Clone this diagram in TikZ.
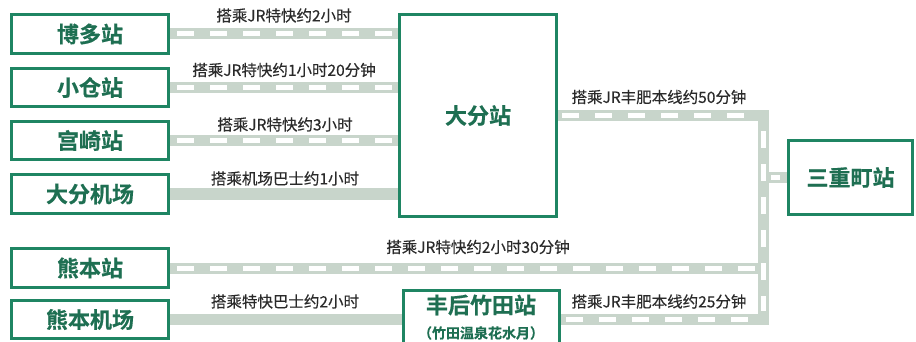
\documentclass[tikz,border=0pt]{standalone}
\usepackage{fontspec}
\setmainfont{Noto Sans CJK SC}
\newfontfamily\lblfont[FakeBold=0.4]{Noto Sans CJK SC}
\newfontfamily\namefont[FakeBold=0.5]{Noto Sans CJK SC Bold}
\definecolor{boxgreen}{HTML}{1F8563}
\definecolor{txtgreen}{HTML}{1E6F52}
\definecolor{trackgray}{HTML}{C8D5CB}
\definecolor{labelgray}{HTML}{2A2A2A}
\tikzset{
  stbox/.style={draw=boxgreen, line width=3pt, fill=white, inner sep=0pt,
    minimum width=157pt, minimum height=38.5pt, font=\namefont\fontsize{22}{22}\selectfont, text=txtgreen},
  track/.style={draw=trackgray, line width=11pt},
  trackdash/.style={draw=white, line width=5pt, dash pattern=on 17pt off 16pt, dash phase=-7pt},
  lbl/.style={font=\lblfont\fontsize{15.5}{15.5}\selectfont, text=labelgray, inner sep=0pt},
}
\begin{document}
\begin{tikzpicture}[x=1pt,y=-1pt]
\useasboundingbox (0,0) rectangle (916,342);
\clip (0,0) rectangle (916,342);
% boxes
\node[stbox] (hakata) at (90,34) {};
\node[stbox] (kokura) at (90,87.5) {};
\node[stbox] (miyazaki) at (90,140.5) {};
\node[stbox] (oitaap) at (90,194) {};
\node[stbox] (kuma) at (90,268) {};
\node[stbox] (kumaap) at (90,319.5) {};
\node[stbox, minimum height=202pt] (oita) at (478,115.5) {};
\node[stbox, minimum width=124pt, minimum height=74pt] (sanjo) at (850.5,177.5) {};
\node[stbox, minimum width=156pt, minimum height=70pt] (bungo) at (481.5,325) {};
\coordinate (c1) at (763,116);
\coordinate (c2) at (763,319);
% tracks
\draw[track] (hakata.east) -- (hakata.east -| oita.west);
\draw[track] (kokura.east) -- (kokura.east -| oita.west);
\draw[track] (miyazaki.east) -- (miyazaki.east -| oita.west);
\draw[track] (oitaap.east) -- (oitaap.east -| oita.west);
\draw[track] (kumaap.east) -- (kumaap.east -| bungo.west);
\draw[track] (kuma.east) -- (kuma.east -| c1);
\draw[track, line join=miter] (oita.east |- c1) -- (c1) -- (c2) -- (c2 -| bungo.east);
\draw[track] (sanjo.west -| c1) -- (sanjo.west);
\draw[trackdash] (hakata.east) -- (hakata.east -| oita.west);
\draw[trackdash] (kokura.east) -- (kokura.east -| oita.west);
\draw[trackdash] (miyazaki.east) -- (miyazaki.east -| oita.west);
\draw[trackdash] (kuma.east) -- ([xshift=-8pt]kuma.east -| c1);
\draw[trackdash] ([xshift=-3pt]c1 -| oita.east) -- ([xshift=-8pt]c1);
\draw[trackdash] ([yshift=-8pt]c1) -- ([yshift=8pt]c2);
\draw[trackdash] ([xshift=-8pt]c2) -- (c2 -| bungo.east);
\draw[trackdash, dash pattern=on 9pt off 20pt, dash phase=-8pt] (sanjo.west -| c1) -- (sanjo.west);
% box texts drawn over tracks
\node[stbox] (hakatat) at (hakata) {博多站};
\node[stbox] (kokurat) at (kokura) {小仓站};
\node[stbox] (miyazakit) at (miyazaki) {宫崎站};
\node[stbox] (oitaapt) at (oitaap) {大分机场};
\node[stbox] (kumat) at (kuma) {熊本站};
\node[stbox] (kumaapt) at (kumaap) {熊本机场};
\node[stbox, minimum height=202pt] (oitat) at (oita) {大分站};
\node[stbox, minimum width=124pt, minimum height=74pt] (sanjot) at (sanjo) {三重町站};
\node[stbox, minimum width=156pt, minimum height=70pt] (bungot) at (bungo) {};
\node[font=\namefont\fontsize{22}{22}\selectfont, text=txtgreen, inner sep=0pt] (bungoname) at (481,305) {丰后竹田站};
\node[font=\namefont\fontsize{14}{14}\selectfont, text=txtgreen, inner sep=0pt] (bungosub) at (481,333) {（竹田温泉花水月）};
% labels
\node[lbl] (l1) at (284,15.5) {搭乘JR特快约2小时};
\node[lbl] (l2) at (284,70) {搭乘JR特快约1小时20分钟};
\node[lbl] (l3) at (285,124.5) {搭乘JR特快约3小时};
\node[lbl] (l4) at (285,178.5) {搭乘机场巴士约1小时};
\node[lbl] (l5) at (478,247) {搭乘JR特快约2小时30分钟};
\node[lbl] (l6) at (285,301.5) {搭乘特快巴士约2小时};
\node[lbl] (l7) at (659,97) {搭乘JR丰肥本线约50分钟};
\node[lbl] (l8) at (659,301.5) {搭乘JR丰肥本线约25分钟};
\end{tikzpicture}
\end{document}
